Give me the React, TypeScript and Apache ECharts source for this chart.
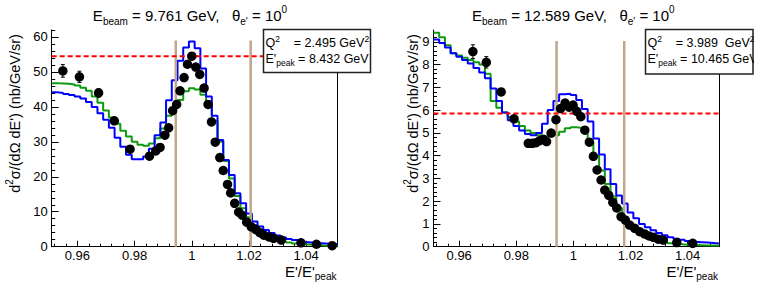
import React, { useEffect, useRef } from 'react';
import * as echarts from 'echarts';

const FONT = '"Liberation Sans", Arial, Helvetica, sans-serif';

// axis ranges and ticks
const X_MIN = 0.951;
const X_MAX = 1.051;
const X_TICKS = [0.96, 0.98, 1.0, 1.02, 1.04];
const X_MINOR_TICKS = [0.952, 0.956, 0.964, 0.968, 0.972, 0.976, 0.984, 0.988, 0.992, 0.996, 1.004, 1.008, 1.012, 1.016, 1.024, 1.028, 1.032, 1.036, 1.044, 1.048];
const Y1_TICKS = [0, 10, 20, 30, 40, 50, 60];
const Y1_MAX = 62;
const Y2_TICKS = [0, 1, 2, 3, 4, 5, 6, 7, 8, 9];
const Y2_MAX = 9.52;

// histogram binning (50 bins of 0.002 from 0.951)
const BIN_LO = 0.951;
const BIN_W = 0.002;

// ---- panel 1: E_beam = 9.761 GeV
const P1_BLUE = [44.2, 44.0, 43.7, 43.4, 43.0, 42.4, 41.4, 40.0, 38.2, 36.3, 34.0, 31.2, 28.6, 26.3, 25.0, 25.0, 25.8, 28.0, 31.9, 35.5, 41.9, 47.6, 53.2, 57.0, 58.7, 56.8, 51.0, 43.0, 37.5, 30.5, 24.8, 20.5, 15.3, 12.4, 9.5, 7.2, 5.8, 4.8, 3.9, 3.2, 2.6, 2.2, 1.9, 1.6, 1.3, 1.1, 1.0, 0.9, 0.8, 0.7];
const P1_GREEN = [46.8, 46.7, 46.6, 46.4, 46.1, 45.5, 44.6, 43.0, 41.2, 39.0, 37.0, 35.2, 33.2, 31.5, 30.0, 29.2, 28.9, 29.5, 31.0, 33.8, 37.5, 40.0, 42.0, 44.5, 45.3, 45.0, 43.5, 40.5, 36.0, 30.0, 24.5, 19.5, 14.5, 11.0, 8.4, 6.2, 4.5, 3.3, 2.5, 1.9, 1.5, 1.2, 0.9, 0.7, 0.6, 0.5, 0.4, 0.3, 0.3, 0.2];
const P1_X = [0.9549, 0.9607, 0.9674, 0.9729, 0.9784, 0.9852, 0.9874, 0.9889, 0.9906, 0.9919, 0.9933, 0.9947, 0.9959, 0.9973, 0.9985, 1.0, 1.0014, 1.0028, 1.0043, 1.0057, 1.0069, 1.0082, 1.0098, 1.011, 1.0125, 1.0136, 1.015, 1.0164, 1.0176, 1.0192, 1.0208, 1.0224, 1.0238, 1.0252, 1.027, 1.0286, 1.0313, 1.0382, 1.0436, 1.0491];
const P1_Y = [50.3, 48.6, 44.0, 36.0, 27.9, 25.9, 27.4, 28.4, 31.9, 34.0, 38.9, 40.7, 44.6, 48.4, 52.2, 54.5, 51.4, 49.3, 45.4, 40.7, 35.7, 29.9, 25.5, 21.8, 17.8, 15.4, 12.4, 9.9, 9.0, 7.0, 5.7, 4.9, 4.0, 3.3, 2.8, 2.4, 1.9, 1.1, 0.7, 0.3];
const P1_ERR = [1.8, 1.6, 1.2, 1.0, 0.8, 0.7, 0.7, 0.7, 0.7, 0.7, 0.8, 0.8, 0.8, 0.8, 0.9, 0.9, 0.9, 0.8, 0.8, 0.8, 0.7, 0.7, 0.6, 0.6, 0.5, 0.5, 0.4, 0.4, 0.4, 0.3, 0.3, 0.3, 0.2, 0.2, 0.2, 0.2, 0.2, 0.1, 0.1, 0.1];
const P1_CUTS = [0.9944, 1.0206];
const P1_CUT_TOP = 59;
const P1_PEAK = 54.5;

// ---- panel 2: E_beam = 12.589 GeV
const P2_BLUE = [9.1, 8.95, 8.75, 8.5, 8.35, 8.2, 8.05, 7.85, 7.65, 7.4, 6.95, 6.4, 5.9, 5.55, 5.3, 5.1, 4.95, 4.9, 5.0, 5.4, 6.0, 6.4, 6.7, 6.72, 6.66, 6.45, 6.05, 5.5, 4.75, 4.05, 3.4, 2.75, 2.25, 1.9, 1.5, 1.25, 1.0, 0.85, 0.72, 0.6, 0.5, 0.42, 0.35, 0.3, 0.25, 0.22, 0.2, 0.18, 0.16, 0.14];
const P2_GREEN = [9.4, 9.2, 8.85, 8.5, 8.4, 8.3, 8.2, 8.1, 8.0, 7.6, 6.4, 6.1, 5.9, 5.7, 5.5, 5.3, 5.1, 5.0, 4.9, 4.85, 4.85, 4.9, 5.05, 5.2, 5.25, 5.22, 5.1, 4.6, 4.0, 3.35, 2.75, 2.2, 1.7, 1.3, 1.0, 0.75, 0.55, 0.42, 0.32, 0.25, 0.2, 0.15, 0.12, 0.1, 0.08, 0.07, 0.06, 0.05, 0.05, 0.04];
const P2_X = [0.9648, 0.9695, 0.9747, 0.9792, 0.9842, 0.9856, 0.9869, 0.9882, 0.9895, 0.9906, 0.9922, 0.9939, 0.9955, 0.9971, 0.9985, 0.9999, 1.0012, 1.0026, 1.004, 1.0056, 1.007, 1.0083, 1.0097, 1.011, 1.0124, 1.0138, 1.0152, 1.0167, 1.0182, 1.0197, 1.0215, 1.0232, 1.0249, 1.0265, 1.028, 1.0297, 1.0315, 1.0362, 1.0418];
const P2_Y = [8.57, 8.1, 6.8, 5.62, 4.54, 4.54, 4.57, 4.66, 4.72, 4.62, 4.99, 5.58, 6.07, 6.31, 6.13, 6.22, 5.95, 5.71, 5.12, 4.59, 3.97, 3.37, 2.93, 2.49, 2.25, 1.95, 1.7, 1.32, 1.17, 0.95, 0.81, 0.66, 0.56, 0.47, 0.41, 0.33, 0.29, 0.18, 0.15];
const P2_ERR = [0.3, 0.25, 0.15, 0.12, 0.1, 0.1, 0.1, 0.1, 0.1, 0.1, 0.1, 0.1, 0.12, 0.12, 0.12, 0.12, 0.12, 0.1, 0.1, 0.1, 0.1, 0.08, 0.08, 0.07, 0.07, 0.06, 0.06, 0.05, 0.05, 0.05, 0.04, 0.04, 0.03, 0.03, 0.03, 0.03, 0.03, 0.02, 0.02];
const P2_CUTS = [0.9941, 1.0178];
const P2_CUT_TOP = 9.04;
const P2_PEAK = 5.85;

const TITLE_1 = { ebeam: '9.761', q2: '2.495', epeak: '8.432' };
const TITLE_2 = { ebeam: '12.589', q2: '3.989', epeak: '10.465' };

const BLUE = '#0000ff';
const GREEN = '#109a10';
const TAN = '#bfa68c';
const RED = '#ff0000';
const NB = '\u00a0';

function minorTicks(majors: number[], step: number, nsub: number, max: number) {
  const out: number[] = [];
  const sub = step / nsub;
  for (let v = 0; v <= max + 1e-9; v += sub) {
    const r = Math.round(v * 1000) / 1000;
    if (!majors.some((m) => Math.abs(m - r) < 1e-6)) out.push(r);
  }
  return out;
}

function histData(h: number[]) {
  const d = h.map((v, i) => [BIN_LO + i * BIN_W, v]);
  d.push([BIN_LO + h.length * BIN_W, h[h.length - 1]]);
  return d;
}

const f = (px: number) => `${px}px ${FONT}`;

// rich styles for graphic texts (zrender style names)
function gRich(big: number, small: number, lh: number, baseAlign = 'middle') {
  const tok = (size: number, va: string) => ({
    font: f(size), fontSize: size, fontFamily: FONT, fill: '#000', lineHeight: lh, verticalAlign: va,
  });
  return { b: tok(big, baseAlign), s: tok(small, 'bottom'), p: tok(small, 'top') };
}
// rich styles for component texts (model style names)
function mRich(big: number, small: number, lh: number) {
  const tok = (size: number, va: string) => ({
    fontSize: size, fontFamily: FONT, color: '#000', lineHeight: lh, verticalAlign: va,
  });
  return { b: tok(big, 'middle'), s: tok(small, 'bottom'), p: tok(small, 'top') };
}

const RICH_YTITLE = gRich(14.5, 10, 22);
const RICH_XTITLE = gRich(15, 10, 18, 'top');
const RICH_BOX = gRich(12.5, 8.5, 18);
const RICH_TITLE = mRich(15, 10, 22);

function txt(text: string, x: number, y: number, align: string, r: any, size: number, rotation = 0) {
  return {
    type: 'text',
    x,
    y,
    rotation,
    silent: true,
    z: 100,
    style: {
      legacy: false, text, rich: r, align, verticalAlign: 'middle',
      font: f(size), fontSize: size, fontFamily: FONT, fill: '#000',
    },
  };
}

export default function App() {
  const ref = useRef<HTMLDivElement>(null);
  useEffect(() => {
    if (!ref.current) return;
    const chart = echarts.init(ref.current, null, { renderer: 'svg' });

    const grids = [
      { left: 51.7, top: 30, width: 285.9, height: 216.7 },
      { left: 433.5, top: 30, width: 285.5, height: 216.7 },
    ];
    const yMax = [Y1_MAX, Y2_MAX];
    const yTicks = [Y1_TICKS, Y2_TICKS];
    const yMinor = [minorTicks(Y1_TICKS, 10, 5, Y1_MAX), minorTicks(Y2_TICKS, 1, 5, Y2_MAX)];

    const xAxis: any[] = [];
    const yAxis: any[] = [];
    [0, 1].forEach((g) => {
      xAxis.push({
        gridIndex: g, type: 'value', min: X_MIN, max: X_MAX, position: 'bottom',
        axisLine: { show: true, onZero: false, lineStyle: { color: '#000', width: 1 } },
        axisTick: { show: true, inside: true, length: 6, customValues: X_TICKS, lineStyle: { color: '#000', width: 1 } },
        axisLabel: {
          show: true, customValues: X_TICKS, color: '#000', fontSize: 13, fontFamily: FONT, margin: 2,
          formatter: (v: number) => String(parseFloat(v.toFixed(2))),
        },
        splitLine: { show: false },
      });
      xAxis.push({
        gridIndex: g, type: 'value', min: X_MIN, max: X_MAX, position: 'bottom',
        axisLine: { show: false, onZero: false },
        axisTick: { show: true, inside: true, length: 3, customValues: X_MINOR_TICKS, lineStyle: { color: '#000', width: 1 } },
        axisLabel: { show: false },
        splitLine: { show: false },
      });
      yAxis.push({
        gridIndex: g, type: 'value', min: 0, max: yMax[g], position: 'left',
        axisLine: { show: true, onZero: false, lineStyle: { color: '#000', width: 1 } },
        axisTick: { show: true, inside: true, length: 7, customValues: yTicks[g], lineStyle: { color: '#000', width: 1 } },
        axisLabel: { show: true, customValues: yTicks[g], color: '#000', fontSize: 13, fontFamily: FONT, margin: 4 },
        splitLine: { show: false },
      });
      yAxis.push({
        gridIndex: g, type: 'value', min: 0, max: yMax[g], position: 'left',
        axisLine: { show: false, onZero: false },
        axisTick: { show: true, inside: true, length: 3.5, customValues: yMinor[g], lineStyle: { color: '#000', width: 1 } },
        axisLabel: { show: false },
        splitLine: { show: false },
      });
      yAxis.push({
        gridIndex: g, type: 'value', min: 0, max: yMax[g], position: 'right',
        axisLine: { show: true, onZero: false, lineStyle: { color: '#000', width: 1 } },
        axisTick: { show: false },
        axisLabel: { show: false },
        splitLine: { show: false },
      });
    });

    const panels = [
      { blue: P1_BLUE, green: P1_GREEN, px: P1_X, py: P1_Y, pe: P1_ERR, cuts: P1_CUTS, cutTop: P1_CUT_TOP, peak: P1_PEAK },
      { blue: P2_BLUE, green: P2_GREEN, px: P2_X, py: P2_Y, pe: P2_ERR, cuts: P2_CUTS, cutTop: P2_CUT_TOP, peak: P2_PEAK },
    ];

    const series: any[] = [];
    panels.forEach((p, g) => {
      const xi = g * 2;
      const yi = g * 3;
      const base = { xAxisIndex: xi, yAxisIndex: yi, silent: true, animation: false };
      series.push({
        ...base, type: 'line', step: 'end', data: histData(p.green), symbol: 'none', showSymbol: false,
        lineStyle: { color: GREEN, width: 2 }, z: 2,
      });
      series.push({
        ...base, type: 'line', step: 'end', data: histData(p.blue), symbol: 'none', showSymbol: false,
        lineStyle: { color: BLUE, width: 2 }, z: 3,
      });
      p.cuts.forEach((c) => {
        series.push({
          ...base, type: 'line', data: [[c, 0], [c, p.cutTop]], symbol: 'none', showSymbol: false,
          lineStyle: { color: TAN, width: 2.5 }, z: 4,
        });
      });
      series.push({
        ...base, type: 'line', data: [[X_MIN, p.peak], [X_MAX, p.peak]], symbol: 'none', showSymbol: false,
        lineStyle: { color: RED, width: 2, type: [5, 3] }, z: 4,
      });
      series.push({
        ...base, type: 'custom', z: 5,
        data: p.px.map((x, i) => [x, p.py[i], p.pe[i]]),
        encode: { x: 0, y: 1 },
        renderItem: (params: any, api: any) => {
          const x = api.value(0), y = api.value(1), e = api.value(2);
          const t = api.coord([x, y + e]);
          const b = api.coord([x, Math.max(0, y - e)]);
          const st = { stroke: '#000', lineWidth: 1 };
          return {
            type: 'group',
            children: [
              { type: 'line', shape: { x1: t[0], y1: t[1], x2: b[0], y2: b[1] }, style: st },
              { type: 'line', shape: { x1: t[0] - 2, y1: t[1], x2: t[0] + 2, y2: t[1] }, style: st },
              { type: 'line', shape: { x1: b[0] - 2, y1: b[1], x2: b[0] + 2, y2: b[1] }, style: st },
            ],
          };
        },
      });
      series.push({
        ...base, type: 'scatter', z: 6, symbol: 'circle', symbolSize: 9.5,
        data: p.px.map((x, i) => [x, p.py[i]]),
        itemStyle: { color: '#000', opacity: 1 },
      });
    });

    const titles = [TITLE_1, TITLE_2];
    const graphic: any[] = [];
    const titleComp: any[] = [];
    const titleX = [190, 573.3];
    const yTitleX = [15, 413];
    const xTitleX = [336.5, 718];
    const boxes = [
      { x: 263.5, y: 29.5, w: 107, h: 43 },
      { x: 645.5, y: 29.5, w: 107.5, h: 44.5 },
    ];
    const q2Spaces = [`${NB}${NB}${NB}${NB}=${NB}`, `${NB}${NB}${NB}${NB}=${NB}`];
    const gevSp = [NB, `${NB}${NB}`];
    titles.forEach((t, g) => {
      titleComp.push({
        text: `{b|E}{s|beam}{b|${NB}=${NB}${t.ebeam}${NB}GeV,${NB}${NB}${NB}θ}{s|e'}{b|${NB}=${NB}10}{p|0}`,
        left: titleX[g], top: 4.5, textAlign: 'center', padding: 0, itemGap: 0,
        textStyle: { fontSize: 15, fontFamily: FONT, color: '#000', fontWeight: 'normal', lineHeight: 22, rich: RICH_TITLE },
      });
      graphic.push(txt(`{b|d}{p|2}{b|σ/(dΩ${NB}dE')${NB}(nb/GeV/sr)}`, yTitleX[g], 113.5, 'center', RICH_YTITLE, 14.5, Math.PI / 2));
      graphic.push(txt(`{b|E'/E'}{s|peak}`, xTitleX[g], 272.5, 'right', RICH_XTITLE, 15));
      const bx = boxes[g];
      graphic.push({
        type: 'rect', z: 90, silent: true,
        shape: { x: bx.x, y: bx.y, width: bx.w, height: bx.h },
        style: { fill: '#fff', stroke: '#222', lineWidth: 1.5 },
      });
      graphic.push(txt(`{b|Q}{p|2}{b|${q2Spaces[g]}${t.q2}${gevSp[g]}GeV}{p|2}`, bx.x + 2, 43, 'left', RICH_BOX, 12.5));
      graphic.push(txt(`{b|E'}{s|peak}{b|${NB}=${NB}${t.epeak}${NB}GeV}`, bx.x + 2, 58.5, 'left', RICH_BOX, 12.5));
    });
    graphic.push({
      type: 'rect', z: 101, silent: true,
      shape: { x: 754, y: 30.5, width: 9, height: 43 },
      style: { fill: '#fff' },
    });

    chart.setOption({
      animation: false,
      backgroundColor: '#fff',
      title: titleComp,
      grid: grids,
      xAxis,
      yAxis,
      series,
      graphic,
    });
    return () => chart.dispose();
  }, []);
  return <div ref={ref} style={{ position: 'absolute', left: 0, top: 0, width: 763, height: 293 }} />;
}
